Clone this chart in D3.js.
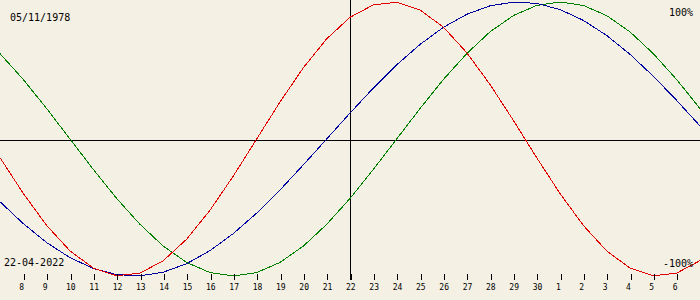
<!DOCTYPE html>
<html>
<head>
<meta charset="utf-8">
<script src="https://cdn.jsdelivr.net/npm/d3@7"></script>
<style>
  body { margin: 0; background: #f4f0e4; }
  svg { display: block; }
  text { font-family: "DejaVu Sans Mono", monospace; fill: #000; }
</style>
</head>
<body>
<svg id="chart" width="700" height="300"></svg>
<script>
// day offsets around the target date (22-04-2022)
var offsets = d3.range(-15, 16);
var dayLabels = [7, 8, 9, 10, 11, 12, 13, 14, 15, 16, 17, 18, 19, 20, 21, 22,
  23, 24, 25, 26, 27, 28, 29, 30, 1, 2, 3, 4, 5, 6, 7];

// percent values, one per day
var physical = [-13.6, -39.8, -63.1, -81.7, -94.2, -99.8, -97.9, -88.8, -73.1, -52.0, -27.0,
  0, 27.0, 52.0, 73.1, 88.8, 97.9, 99.8, 94.2, 81.7, 63.1, 39.8, 13.6,
  -13.6, -39.8, -63.1, -81.7, -94.2, -99.8, -97.9, -88.8];
var emotional = [62.3, 43.4, 22.2, 0, -22.2, -43.4, -62.3, -78.2, -90.1, -97.5, -100,
  -97.5, -90.1, -78.2, -62.3, -43.4, -22.2, 0, 22.2, 43.4, 62.3, 78.2, 90.1,
  97.5, 100, 97.5, 90.1, 78.2, 62.3, 43.4, 22.2];
var intellectual = [-45.8, -61.8, -75.6, -86.6, -94.5, -99.0, -99.9, -97.2, -91.0, -81.5, -69.0,
  -54.1, -37.2, -18.9, 0, 18.9, 37.2, 54.1, 69.0, 81.5, 91.0, 97.2, 99.9,
  99.0, 94.5, 86.6, 75.6, 61.8, 45.8, 28.2, 9.5];

var birthLabel = "05/11/1978";
var dateLabel = "22-04-2022";

var svg = d3.select("#chart");
var W = 700, H = 300;

var x = d3.scaleLinear().domain([-15, 15]).range([0, 700]);
var y = d3.scaleLinear().domain([-100, 100]).range([276, 2]);

svg.append("rect").attr("width", W).attr("height", H).attr("fill", "#f4f0e4");

// zero line and today line
svg.append("line")
  .attr("x1", 0).attr("x2", W)
  .attr("y1", 140.5).attr("y2", 140.5)
  .attr("stroke", "#000").attr("shape-rendering", "crispEdges");
svg.append("line")
  .attr("x1", Math.round(x(0)) + 0.5).attr("x2", Math.round(x(0)) + 0.5)
  .attr("y1", 0).attr("y2", 280)
  .attr("stroke", "#000").attr("shape-rendering", "crispEdges");

// curves
var line = d3.line()
  .x(function(d, i) { return x(offsets[i]); })
  .y(function(d) { return y(d); });

var series = [
  { values: emotional, color: "#008000" },
  { values: intellectual, color: "#0000a0" },
  { values: physical, color: "#e00000" }
];
series.forEach(function(s) {
  svg.append("path")
    .attr("d", line(s.values))
    .attr("fill", "none")
    .attr("stroke", s.color)
    .attr("stroke-width", 1)
    .attr("shape-rendering", "crispEdges");
});

// day ticks
var axis = d3.axisBottom(x)
  .tickValues(d3.range(-14, 15))
  .tickSize(6)
  .tickFormat(function(d) { return dayLabels[d + 15]; });

var g = svg.append("g").attr("transform", "translate(0.5,274)").call(axis);
g.select(".domain").remove();
g.selectAll(".tick line").attr("stroke", "#000").attr("shape-rendering", "crispEdges");
g.selectAll(".tick text")
  .attr("font-family", "DejaVu Sans Mono, monospace")
  .attr("font-size", 8)
  .attr("text-anchor", "start")
  .attr("x", -5)
  .attr("y", 10)
  .attr("fill", "#000");

// corner labels
svg.append("text").attr("x", 10).attr("y", 21).attr("font-size", 10).text(birthLabel);
svg.append("text").attr("x", 4).attr("y", 266).attr("font-size", 10).text(dateLabel);
svg.append("text").attr("x", 693).attr("y", 16).attr("font-size", 10)
  .attr("text-anchor", "end").text("100%");
svg.append("text").attr("x", 693).attr("y", 267).attr("font-size", 10)
  .attr("text-anchor", "end").text("-100%");
</script>
</body>
</html>
